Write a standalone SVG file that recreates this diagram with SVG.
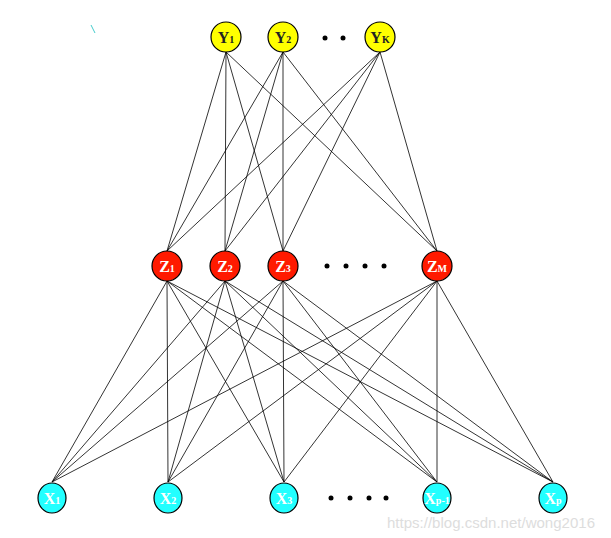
<svg xmlns="http://www.w3.org/2000/svg" width="611" height="538" viewBox="0 0 611 538">
<style>
.e{stroke:#000;stroke-width:0.8}
.y{fill:#ffff00;stroke:#000;stroke-width:1.2}
.z{fill:#ff1a00;stroke:#000;stroke-width:1.2}
.x{fill:#22ffff;stroke:#000;stroke-width:1.2}
.t{font-family:"Liberation Serif",serif;font-weight:bold;font-size:16px;text-anchor:middle}
.s{font-size:10px}
.w{fill:#fff}
.k{fill:#222}
</style>
<rect width="611" height="538" fill="#fff"/>
<line x1="91" y1="25" x2="95" y2="33" stroke="#4cc" stroke-width="1"/>
<g id="connectors" class="e">
<line x1="226" y1="52" x2="167" y2="251"/><line x1="226" y1="52" x2="225" y2="251"/><line x1="226" y1="52" x2="283" y2="251"/><line x1="226" y1="52" x2="437" y2="251"/>
<line x1="283" y1="52" x2="167" y2="251"/><line x1="283" y1="52" x2="225" y2="251"/><line x1="283" y1="52" x2="283" y2="251"/><line x1="283" y1="52" x2="437" y2="251"/>
<line x1="380" y1="52" x2="167" y2="251"/><line x1="380" y1="52" x2="225" y2="251"/><line x1="380" y1="52" x2="283" y2="251"/><line x1="380" y1="52" x2="437" y2="251"/>
<line x1="167" y1="281" x2="52" y2="482"/><line x1="167" y1="281" x2="168" y2="482"/><line x1="167" y1="281" x2="284" y2="482"/><line x1="167" y1="281" x2="437" y2="482"/><line x1="167" y1="281" x2="553" y2="482"/>
<line x1="225" y1="281" x2="52" y2="482"/><line x1="225" y1="281" x2="168" y2="482"/><line x1="225" y1="281" x2="284" y2="482"/><line x1="225" y1="281" x2="437" y2="482"/><line x1="225" y1="281" x2="553" y2="482"/>
<line x1="283" y1="281" x2="52" y2="482"/><line x1="283" y1="281" x2="168" y2="482"/><line x1="283" y1="281" x2="284" y2="482"/><line x1="283" y1="281" x2="437" y2="482"/><line x1="283" y1="281" x2="553" y2="482"/>
<line x1="437" y1="281" x2="52" y2="482"/><line x1="437" y1="281" x2="168" y2="482"/><line x1="437" y1="281" x2="284" y2="482"/><line x1="437" y1="281" x2="437" y2="482"/><line x1="437" y1="281" x2="553" y2="482"/>
</g>
<g id="Y1"><circle class="y" cx="226" cy="37" r="15"/><text class="t k" x="226" y="43">Y<tspan class="s">1</tspan></text></g>
<g id="Y2"><circle class="y" cx="283" cy="37" r="15"/><text class="t k" x="283" y="43">Y<tspan class="s">2</tspan></text></g>
<g id="YK"><circle class="y" cx="380" cy="37" r="15"/><text class="t k" x="380" y="43">Y<tspan class="s">K</tspan></text></g>
<g id="ydots"><circle cx="325" cy="38" r="2.5"/><circle cx="343" cy="38" r="2.5"/></g>
<g id="Z1"><circle class="z" cx="167" cy="266" r="15"/><text class="t w" x="167" y="272">Z<tspan class="s">1</tspan></text></g>
<g id="Z2"><circle class="z" cx="225" cy="266" r="15"/><text class="t w" x="225" y="272">Z<tspan class="s">2</tspan></text></g>
<g id="Z3"><circle class="z" cx="283" cy="266" r="15"/><text class="t w" x="283" y="272">Z<tspan class="s">3</tspan></text></g>
<g id="ZM"><circle class="z" cx="437" cy="266" r="15"/><text class="t w" x="437" y="272">Z<tspan class="s">M</tspan></text></g>
<g id="zdots"><circle cx="327" cy="266" r="2.5"/><circle cx="346" cy="266" r="2.5"/><circle cx="365" cy="266" r="2.5"/><circle cx="384" cy="266" r="2.5"/></g>
<g id="X1"><ellipse class="x" cx="52" cy="498" rx="14" ry="15"/><text class="t w" x="52" y="504">X<tspan class="s">1</tspan></text></g>
<g id="X2"><ellipse class="x" cx="168" cy="498" rx="14" ry="15"/><text class="t w" x="168" y="504">X<tspan class="s">2</tspan></text></g>
<g id="X3"><ellipse class="x" cx="284" cy="498" rx="14" ry="15"/><text class="t w" x="284" y="504">X<tspan class="s">3</tspan></text></g>
<g id="Xp-1"><ellipse class="x" cx="437" cy="498" rx="14" ry="15"/><text class="t w" x="437" y="504">X<tspan class="s">p-1</tspan></text></g>
<g id="Xp"><ellipse class="x" cx="553" cy="498" rx="14" ry="15"/><text class="t w" x="553" y="504">X<tspan class="s">p</tspan></text></g>
<g id="xdots"><circle cx="331" cy="498" r="2.5"/><circle cx="350" cy="498" r="2.5"/><circle cx="369" cy="498" r="2.5"/><circle cx="386" cy="498" r="2.5"/></g>
<text x="387" y="528" font-family="Liberation Sans,sans-serif" font-size="15" fill="#ddd" textLength="208" lengthAdjust="spacingAndGlyphs">https://blog.csdn.net/wong2016</text>
</svg>
